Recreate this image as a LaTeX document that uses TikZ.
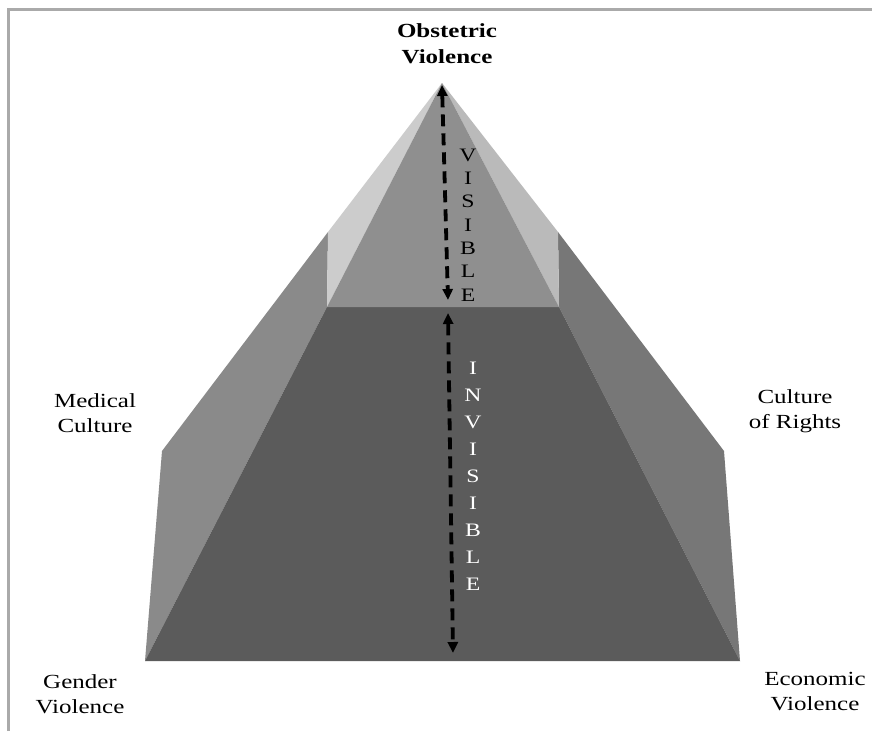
\documentclass[tikz,border=0pt]{standalone}
\usepackage{fontspec}
\setmainfont{Liberation Serif}[FakeStretch=1.25]
\usetikzlibrary{arrows.meta}
\definecolor{frameg}{RGB}{170,170,170}
\definecolor{lightL}{RGB}{204,204,204}
\definecolor{lightR}{RGB}{186,186,186}
\definecolor{topfront}{RGB}{143,143,143}
\definecolor{sideL}{RGB}{138,138,138}
\definecolor{sideR}{RGB}{119,119,119}
\definecolor{front}{RGB}{91,91,91}
\begin{document}
\begin{tikzpicture}[x=1pt,y=-1pt,
  lbl/.style={font=\fontsize{20}{25}\selectfont, align=center, inner sep=0pt},
  vstack/.style={font=\fontsize{19}{#1}\selectfont, align=center, inner sep=0pt},
  dasharrow/.style={line width=3.8pt, dash pattern=on 12pt off 7pt,
    {Triangle[length=11pt,width=10pt]}-{Triangle[length=11pt,width=10pt]}}]
\useasboundingbox (0,0) rectangle (872,731);
\fill[white] (0,0) rectangle (872,731);
\draw[frameg, line width=2.5pt] (8.5,731) -- (8.5,9.5) -- (872,9.5);

\coordinate (apex) at (442,83);
\coordinate (lt) at (328,232);
\coordinate (rt) at (558,232);
\coordinate (lm) at (327,307);
\coordinate (rm) at (559,307);
\coordinate (lo) at (162,451);
\coordinate (ro) at (724,451);
\coordinate (lb) at (145,661);
\coordinate (rb) at (740,661);

\fill[sideL] (lt) -- (lo) -- (lb) -- (lm) -- cycle;
\fill[sideR] (rt) -- (ro) -- (rb) -- (rm) -- cycle;
\fill[front] (lm) -- (rm) -- (rb) -- (lb) -- cycle;
\fill[lightL] (apex) -- (lt) -- (lm) -- cycle;
\fill[lightR] (apex) -- (rt) -- (rm) -- cycle;
\fill[topfront] (apex) -- (lm) -- (rm) -- cycle;

\coordinate (v1) at (442,85);
\coordinate (v2) at (448,300);
\coordinate (i1) at (448,313);
\coordinate (i2) at (453,653);
\draw[dasharrow] (v1) -- (v2);
\draw[dasharrow] (i1) -- (i2);

\node[vstack=23.3] (vis) at (468,225) {V\\I\\S\\I\\B\\L\\E};
\node[vstack=27, text=white] (invis) at (473,476) {I\\N\\V\\I\\S\\I\\B\\L\\E};

\node[lbl, font=\fontsize{20}{26}\selectfont\bfseries] (ov) at (447,44) {Obstetric\\Violence};
\node[lbl] (mc) at (95,413) {Medical\\Culture};
\node[lbl] (cr) at (795,411) {Culture\\of Rights};
\node[lbl] (gv) at (80,694) {Gender\\Violence};
\node[lbl] (ev) at (815,692) {Economic\\Violence};
\end{tikzpicture}
\end{document}
